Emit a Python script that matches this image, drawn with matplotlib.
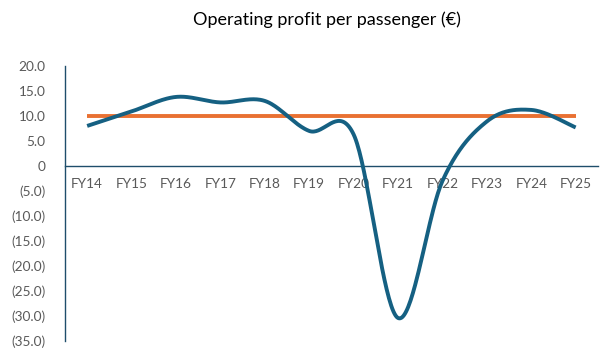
import numpy as np
import matplotlib
matplotlib.use("Agg")
import matplotlib.pyplot as plt
from matplotlib.ticker import FuncFormatter

years = ["FY14", "FY15", "FY16", "FY17", "FY18", "FY19", "FY20", "FY21", "FY22", "FY23", "FY24", "FY25"]
profit = [8.0, 10.9, 13.8, 12.7, 13.0, 7.0, 6.3, -30.4, -3.0, 8.9, 11.2, 7.7]
target = [10.0] * len(years)

title = "Operating profit per passenger (€)"

plt.rcParams['font.family'] = ['Lato', 'DejaVu Sans']


def smooth(xs, ys, n=40):
    """Excel-style smoothed line (Catmull-Rom Bezier)."""
    xs = np.asarray(xs, float)
    ys = np.asarray(ys, float)
    px, py = [], []
    m = len(xs)
    for i in range(m - 1):
        x0, y0 = xs[i], ys[i]
        x3, y3 = xs[i + 1], ys[i + 1]
        xm, ym = (xs[i - 1], ys[i - 1]) if i > 0 else (x0, y0)
        xp, yp = (xs[i + 2], ys[i + 2]) if i + 2 < m else (x3, y3)
        x1, y1 = x0 + (x3 - xm) / 6, y0 + (y3 - ym) / 6
        x2, y2 = x3 - (xp - x0) / 6, y3 - (yp - y0) / 6
        t = np.linspace(0, 1, n)
        bx = (1 - t) ** 3 * x0 + 3 * (1 - t) ** 2 * t * x1 + 3 * (1 - t) * t ** 2 * x2 + t ** 3 * x3
        by = (1 - t) ** 3 * y0 + 3 * (1 - t) ** 2 * t * y1 + 3 * (1 - t) * t ** 2 * y2 + t ** 3 * y3
        px.extend(bx)
        py.extend(by)
    return np.array(px), np.array(py)


fig = plt.figure(figsize=(6.07, 3.61), dpi=100)
ax = fig.add_axes([0.107, 0.0554, 0.878, 0.762])

x = np.arange(len(years))
sx, sy = smooth(x, profit)
ax.plot(sx, sy, color="#156082", lw=2.8, solid_capstyle="butt", zorder=3)
ax.plot(x, target, color="#E97132", lw=2.8, solid_capstyle="butt", zorder=2)

ax.set_xlim(-0.5, 11.5)
ax.set_ylim(-35, 20)
ax.set_yticks(np.arange(-35, 20.1, 5))


def fmt(v, pos):
    if abs(v) < 1e-9:
        return "0"
    if v < 0:
        return f"({abs(v):.1f})"
    return f"{v:.1f}"


ax.yaxis.set_major_formatter(FuncFormatter(fmt))
ax.set_xticks(x)
ax.set_xticklabels(years)

for s in ["top", "right"]:
    ax.spines[s].set_visible(False)
ax.spines["bottom"].set_position(("data", 0))
ax.spines["bottom"].set_color("#1f4e6b")
ax.spines["left"].set_color("#1f4e6b")
ax.spines["bottom"].set_linewidth(1.0)
ax.spines["left"].set_linewidth(1.0)

ax.tick_params(axis="both", length=0, labelsize=9.8, labelcolor="#595959")
ax.tick_params(axis="y", pad=14)
ax.tick_params(axis="x", pad=9)

fig.text(0.538, 0.945, title, ha="center", va="center", fontsize=13, color="#000000")

fig.savefig("out.png", dpi=100)
